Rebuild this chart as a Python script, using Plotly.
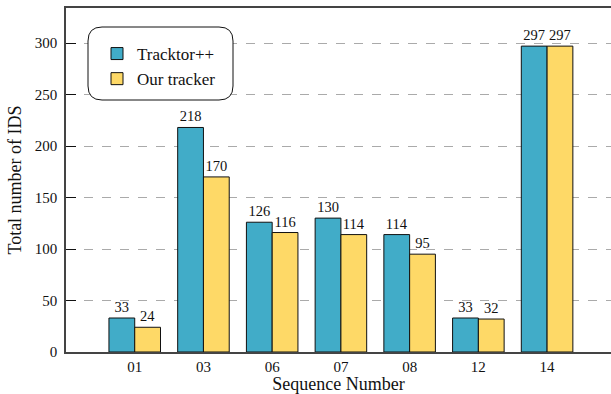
import plotly.graph_objects as go

sequences = ["01", "03", "06", "07", "08", "12", "14"]
tracktor_ids = [33, 218, 126, 130, 114, 33, 297]
our_ids = [24, 170, 116, 114, 95, 32, 297]

font_family = "Liberation Serif"
blue = "#41ACC8"
yellow = "#FED967"

fig = go.Figure()
fig.add_trace(go.Bar(
    x=sequences, y=tracktor_ids, name="Tracktor++",
    marker=dict(color=blue, line=dict(color="#111111", width=1)),
    text=tracktor_ids, textposition="outside", cliponaxis=False,
    textfont=dict(family=font_family, size=14.5, color="#111111"),
))
fig.add_trace(go.Bar(
    x=sequences, y=our_ids, name="Our tracker",
    marker=dict(color=yellow, line=dict(color="#111111", width=1)),
    text=our_ids, textposition="outside", cliponaxis=False,
    textfont=dict(family=font_family, size=14.5, color="#111111"),
))

# plot area geometry in pixels, used for the rounded legend frame
W, H = 611, 394
ml, mr, mt, mb = 66, 0, 8, 42
pw, ph = W - ml - mr, H - mt - mb


def px_x(x):
    return (x - ml) / pw


def px_y(y):
    return (H - mb - y) / ph


x0, x1, y0, y1, r = 88, 233, 27, 100, 14
path = (
    f"M {px_x(x0 + r)},{px_y(y0)} L {px_x(x1 - r)},{px_y(y0)} "
    f"Q {px_x(x1)},{px_y(y0)} {px_x(x1)},{px_y(y0 + r)} "
    f"L {px_x(x1)},{px_y(y1 - r)} "
    f"Q {px_x(x1)},{px_y(y1)} {px_x(x1 - r)},{px_y(y1)} "
    f"L {px_x(x0 + r)},{px_y(y1)} "
    f"Q {px_x(x0)},{px_y(y1)} {px_x(x0)},{px_y(y1 - r)} "
    f"L {px_x(x0)},{px_y(y0 + r)} "
    f"Q {px_x(x0)},{px_y(y0)} {px_x(x0 + r)},{px_y(y0)} Z"
)
fig.add_shape(type="path", path=path, xref="paper", yref="paper",
              line=dict(color="#111111", width=1), fillcolor="white", layer="above")

fig.update_layout(
    width=W, height=H,
    margin=dict(l=ml, r=mr, t=mt, b=mb),
    paper_bgcolor="white", plot_bgcolor="white",
    barmode="group", bargap=0.25, bargroupgap=0,
    font=dict(family=font_family, size=15, color="#111111"),
    showlegend=True,
    legend=dict(
        x=px_x(97), y=px_y(36), xanchor="left", yanchor="top",
        bgcolor="rgba(0,0,0,0)", borderwidth=0,
        font=dict(family=font_family, size=17, color="#111111"),
        tracegroupgap=0, itemwidth=30,
    ),
    xaxis=dict(
        range=[-1, 6.93], showline=True, linecolor="#444444", linewidth=1.5,
        mirror=True, ticks="", showgrid=False,
        title=dict(text="Sequence Number", font=dict(size=18), standoff=4),
        tickfont=dict(size=15),
    ),
    yaxis=dict(
        range=[0, 334], showline=True, linecolor="#444444", linewidth=1.5,
        ticks="inside", ticklen=10, tickcolor="#111111", tickwidth=1,
        ticklabelstandoff=4,
        tickvals=[0, 50, 100, 150, 200, 250, 300],
        showgrid=True, gridcolor="#AAAAAA", griddash="dash", gridwidth=1,
        zeroline=False,
        title=dict(text="Total number of IDS", font=dict(size=18), standoff=8),
        tickfont=dict(size=15),
    ),
)

fig.write_html("out.html")
